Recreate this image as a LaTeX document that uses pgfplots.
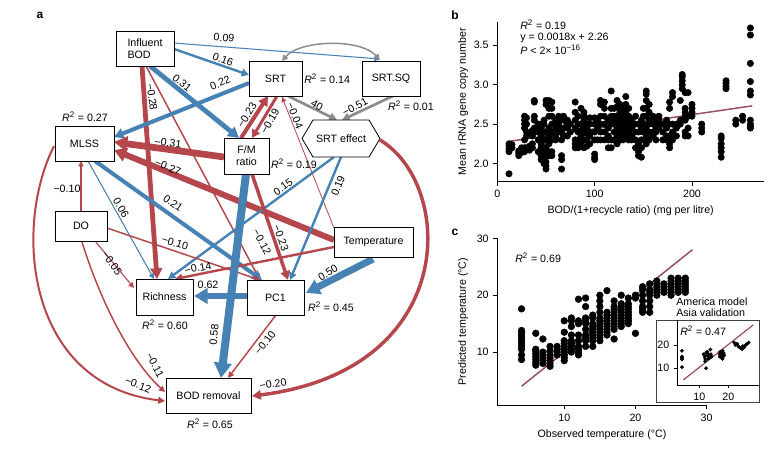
\documentclass[border=0pt]{standalone}
\usepackage{pgfplots}
\usepackage{pgfplotstable}
\pgfplotsset{compat=1.18}
\usepackage{fontspec}
\setmainfont{Liberation Sans}
\usetikzlibrary{arrows.meta}

\definecolor{pblue}{RGB}{70,130,180}
\definecolor{pred}{RGB}{180,70,76}
\definecolor{pgray}{RGB}{140,140,140}
\definecolor{trend}{RGB}{150,78,92}

\newcommand{\Rsq}[1]{\textit{R}\textsuperscript{2} = #1}

% panel b: BOD/(1+recycle ratio) vs mean rRNA copy number
\pgfplotstableread[row sep=\\]{x y\\
12 2.15\\12 2.18\\12 2.22\\12 2.25\\12 1.87\\15 2.2\\15 2.24\\
22 2.1\\22 2.13\\22 2.16\\25 2.14\\25 2.18\\25 2.2\\
28 2.15\\28 2.2\\28 2.3\\28 2.45\\28 2.5\\28 2.55\\28 2.6\\
30 2.2\\30 2.35\\30 2.4\\30 2.5\\30 2.58\\
33 2.17\\33 2.22\\33 2.38\\36 2.2\\36 2.25\\36 2.35\\36 2.42\\
38 2.78\\38 2.8\\38 2.6\\38 2.55\\38 2.45\\38 2.4\\
42 2.3\\42 2.4\\42 2.45\\42 2.5\\42 2.15\\
45 2.05\\45 2.1\\45 2.2\\45 2.25\\45 2.3\\45 2.35\\45 2.4\\45 2.45\\45 2.5\\
48 2.1\\48 2.15\\48 2.2\\48 2.3\\48 2.4\\48 2.5\\48 2.55\\48 2.0\\
50 1.93\\50 1.97\\50 2.02\\50 2.1\\50 2.2\\50 2.3\\50 2.4\\50 2.8\\50 2.75\\
53 2.1\\53 2.15\\53 2.25\\53 2.35\\53 2.45\\53 2.6\\53 2.7\\53 2.8\\
56 2.1\\56 2.15\\56 2.3\\56 2.4\\56 2.5\\56 2.6\\56 2.7\\56 2.78\\
60 2.3\\60 2.35\\60 2.45\\60 2.5\\60 2.55\\
63 2.4\\63 2.5\\63 2.55\\63 2.6\\63 2.45\\
66 1.93\\66 2.05\\66 2.1\\66 2.3\\66 2.4\\
68 2.35\\68 2.45\\68 2.55\\68 2.6\\72 2.35\\72 2.45\\72 2.5\\72 2.55\\75 2.4\\75 2.5\\
80 2.2\\80 2.25\\80 2.3\\80 2.45\\80 2.55\\80 2.65\\80 2.78\\
83 2.2\\83 2.3\\83 2.4\\83 2.5\\83 2.6\\
86 2.25\\86 2.35\\86 2.42\\86 2.5\\86 2.7\\
89 2.2\\89 2.3\\89 2.4\\89 2.45\\89 2.55\\89 2.6\\89 2.65\\
92 2.22\\92 2.3\\92 2.38\\92 2.45\\92 2.5\\
95 2.25\\95 2.35\\95 2.4\\95 2.5\\95 2.58\\
100 2.05\\100 2.08\\100 2.12\\100 2.3\\100 2.4\\100 2.5\\100 2.58\\
103 2.3\\103 2.45\\103 2.55\\
106 2.3\\106 2.4\\106 2.5\\106 2.6\\106 2.75\\106 2.8\\
110 2.3\\110 2.4\\110 2.5\\110 2.6\\110 2.7\\110 2.78\\
114 2.2\\114 2.3\\114 2.35\\114 2.45\\114 2.55\\
117 2.2\\117 2.3\\117 2.5\\117 2.6\\117 2.7\\117 2.92\\
120 2.3\\120 2.4\\120 2.5\\120 2.55\\120 2.6\\120 2.7\\
123 2.25\\123 2.35\\123 2.45\\123 2.5\\123 2.6\\123 2.72\\123 2.8\\
126 2.3\\126 2.4\\126 2.45\\126 2.55\\126 2.65\\126 2.75\\
129 2.3\\129 2.35\\129 2.45\\129 2.5\\129 2.6\\129 2.7\\
132 2.35\\132 2.4\\132 2.5\\132 2.55\\132 2.65\\132 2.75\\132 2.85\\
135 2.3\\135 2.4\\135 2.45\\135 2.5\\135 2.6\\135 2.7\\
138 2.3\\138 2.35\\138 2.45\\138 2.5\\138 2.55\\
142 2.2\\142 2.3\\142 2.4\\142 2.5\\142 2.6\\
145 2.1\\145 2.15\\145 2.25\\145 2.4\\145 2.5\\
148 2.08\\148 2.2\\148 2.3\\148 2.45\\148 2.55\\
150 2.3\\150 2.4\\150 2.5\\150 2.6\\150 2.7\\
153 2.25\\153 2.35\\153 2.45\\153 2.6\\153 2.7\\153 2.8\\153 2.88\\153 2.92\\
156 2.3\\156 2.4\\156 2.5\\156 2.55\\156 2.65\\156 2.75\\
160 2.35\\160 2.4\\160 2.5\\160 2.6\\
163 2.3\\163 2.4\\163 2.45\\163 2.55\\
166 2.45\\166 2.5\\166 2.55\\166 2.6\\
170 2.3\\170 2.4\\170 2.5\\
174 2.3\\174 2.35\\174 2.45\\174 2.55\\
177 2.2\\177 2.25\\177 2.35\\177 2.5\\177 2.7\\177 2.78\\
180 2.3\\180 2.4\\180 2.5\\180 2.85\\180 2.9\\
184 2.35\\184 2.45\\184 2.5\\
188 2.5\\188 2.55\\188 2.8\\
190 2.95\\190 3.0\\190 3.05\\190 3.1\\190 3.13\\
193 2.35\\193 2.4\\193 2.55\\193 2.6\\193 2.65\\193 2.7\\193 2.9\\
196 2.35\\196 2.45\\196 2.6\\196 2.9\\
200 2.6\\200 2.65\\200 2.7\\200 2.75\\
210 2.4\\210 2.45\\210 2.5\\
230 2.08\\230 2.15\\230 2.2\\230 2.25\\230 2.32\\230 2.35\\
235 2.95\\235 2.98\\235 3.02\\235 3.05\\
245 2.5\\245 2.55\\252 2.55\\252 2.6\\
260 3.72\\260 3.63\\260 3.27\\260 3.04\\260 2.92\\260 2.87\\260 2.55\\260 2.5\\260 2.47\\260 2.45\\
}\bdata

% panel c: observed vs predicted temperature
\pgfplotstableread[row sep=\\]{x y\\
4 8.7\\4 9.5\\4 10.5\\4 11\\4 11.5\\4 12\\4 12.5\\4 13\\4 13.5\\4 13.8\\4 17.6\\
6 7.7\\6 8.2\\6 8.7\\6 9.2\\6 9.7\\6 10.2\\6 10.5\\6 13.3\\
7 8\\7 8.5\\7 9\\7 9.5\\7 10\\7 12.3\\
8 7.5\\8 8\\8 8.5\\8 9\\8 9.5\\8 10.2\\8 11\\
9 9.5\\9 10\\9 10.5\\9 11\\
10 8.5\\10 9\\10 9.5\\10 10\\10 10.5\\10 11\\10 11.5\\10 12\\10 13.5\\10 15.5\\
11 10\\11 10.5\\11 11\\11 11.5\\11 12\\11 13\\11 14.5\\11 15.5\\11 16\\
12 9.5\\12 10\\12 10.5\\12 11\\12 12\\12 13\\12 15\\12 15.5\\12 19.3\\
13 11\\13 12\\13 12.5\\13 13\\13 14\\13 15\\13 15.5\\13 16\\13 18\\13 19.5\\
14 11\\14 12\\14 12.5\\14 13\\14 13.5\\14 14\\14 14.5\\14 15\\14 16\\14 16.5\\
15 12\\15 12.5\\15 13\\15 13.5\\15 14\\15 14.5\\15 15\\15 15.5\\15 16\\15 17\\15 18\\15 19\\15 20\\
16 13\\16 13.5\\16 14\\16 14.5\\16 15\\16 15.5\\16 16\\16 16.5\\16 17\\16 20.8\\
17 12.3\\17 14\\17 14.5\\17 15\\17 15.5\\17 16\\17 16.5\\17 17\\17 17.5\\17 18\\17 19\\
18 14.5\\18 15\\18 15.5\\18 16\\18 16.5\\18 17\\18 17.5\\18 18\\18 18.5\\18 20\\
19 15\\19 15.5\\19 16\\19 16.5\\19 17\\19 17.5\\19 18\\19 18.5\\19 19.5\\
20 13.3\\20 19.5\\20 20\\
21 17\\21 17.5\\21 18\\21 19\\21 20\\21 21\\21 21.5\\
22 17\\22 18\\22 19\\22 20\\22 20.5\\22 21\\22 22\\
23 20\\23 20.5\\23 21\\23 21.5\\23 22\\23 22.5\\
24 20.5\\24 21\\24 21.5\\24 22\\
25 20\\25 20.5\\25 21\\25 21.5\\25 22\\25 22.5\\25 23\\
26 20.5\\26 21\\26 21.5\\26 22\\26 22.5\\26 23\\
27 20.5\\27 21\\27 21.5\\27 22\\27 22.5\\27 23\\
}\cdata

% inset: America model, Asia validation
\pgfplotstableread[row sep=\\]{x y\\
4 17.5\\4 15\\4 14.5\\4 14\\4 13.8\\4 10.5\\
11.5 16\\11.8 15\\12 14\\12 13\\12.3 10\\12.8 17\\13 16\\13.2 15\\13.5 14.5\\13.8 18\\14 16\\14.2 15\\12.6 15.5\\13 14\\12.4 16.8\\
17 16\\17.2 17\\17.4 15.5\\17.6 14.5\\17.8 16\\18 17.5\\18.2 15\\18.4 16.5\\18.6 15.5\\17.5 16.8\\18 14\\17 15\\
22 21\\22.4 20\\23 20.5\\23.8 19\\24.4 18.5\\25 19.5\\25.5 19\\26 20\\26.5 20.5\\27 21\\23.4 19.5\\24.8 18.2\\
}\idata

\tikzset{
  ar/.style={-{Triangle[length=3pt 1.4, width=2.6pt 1.7]}},
  lab/.style={font=\fontsize{8}{9}\selectfont, inner sep=0pt},
  bx/.style={draw, fill=white, line width=0.6pt},
}
\pgfplotsset{
  panel/.style={
    anchor=south west, scale only axis,
    axis lines*=left, axis line style={-, line width=0.6pt},
    tick align=outside, major tick length=3pt,
    tick style={black, line width=0.6pt},
    ticklabel style={font=\fontsize{8}{9}\selectfont},
    label style={font=\fontsize{8}{9}\selectfont},
    /pgf/number format/assume math mode=true,
  },
}

\begin{document}
\begin{tikzpicture}
\useasboundingbox (0,0) rectangle (586.5pt,339.75pt);

% background axis in pixel units, holds the path diagram
\begin{axis}[at={(0,0)}, anchor=south west, scale only axis,
  width=586.5pt, height=339.75pt, xmin=0, xmax=782, ymin=0, ymax=453,
  y dir=reverse, hide axis, clip=false]

% arrows
\draw[ar, pblue, line width=0.8pt] (174,43) -- (380,59);
\draw[ar, pblue, line width=1.8pt] (174,49) -- (249,75);
\draw[ar, pblue, line width=3.6pt] (150,66) -- (239,138);
\draw[ar, pred, line width=3.6pt] (142,66) -- (157,279);
\draw[ar, pred, line width=1.1pt] (146,66) -- (260,280);
\draw[ar, pblue, line width=3pt] (249,83) -- (114,137);
\draw[ar, pred, line width=3pt] (241,138) -- (268,96);
\draw[ar, pred, line width=2.2pt] (277,96) -- (252,138);
\draw[ar, pgray, line width=2pt] (288,96) -- (337,120);
\draw[ar, pgray, line width=2pt] (393,96) -- (342,120);
\draw[{Triangle[length=3pt 1.4, width=2.6pt 1.7]}-{Triangle[length=3pt 1.4, width=2.6pt 1.7]}, pgray, line width=1.1pt]
  (282,61) .. controls (300,40) and (360,38) .. (380,60);
\draw[ar, pred, line width=5pt] (224,157) -- (114,142);
\draw[ar, pred, line width=4.5pt] (334,240) -- (114,150);
\draw[ar, pred, line width=0.6pt] (334,228) -- (282,97);
\draw[ar, pred, line width=0.8pt] (81,211) -- (81,161);
\draw[ar, pblue, line width=0.8pt] (88,161) -- (154,279);
\draw[ar, pblue, line width=3pt] (95,161) -- (262,280);
\draw[ar, pblue, line width=1.8pt] (334,157) -- (168,279);
\draw[ar, pblue, line width=1.8pt] (341,157) -- (290,280);
\draw[ar, pred, line width=2.6pt] (380,140) .. controls (455,185) and (460,370) .. (252,396);
\draw[ar, pred, line width=1.8pt] (334,247) -- (175,279);
\draw[ar, pred, line width=1.1pt] (107,228) -- (260,280);
\draw[ar, pred, line width=0.8pt] (95,241) -- (134,288);
\draw[ar, pred, line width=1.1pt] (82,242) .. controls (100,300) and (130,360) .. (165,392);
\draw[ar, pred, line width=1.5pt] (54,146) .. controls (12,230) and (28,385) .. (165,401);
\draw[ar, pred, line width=1.1pt] (276,315) -- (228,378);
\draw[ar, pred, line width=2.6pt] (252,174) -- (288,280);
\draw[ar, pblue, line width=6pt] (246,174) -- (221,378);
\draw[ar, pblue, line width=5.2pt] (373,259) -- (306,293);
\draw[ar, pblue, line width=5.2pt] (247,296) -- (194,296);

% boxes
\draw[bx] (116,31) rectangle (174,66);
\draw[bx] (249,61) rectangle (302,96);
\draw[bx] (362,61) rectangle (420,96);
\draw[bx] (302,138.5) -- (313,120) -- (369,120) -- (380,138.5) -- (369,157) -- (313,157) -- cycle;
\draw[bx] (55,126) rectangle (114,161);
\draw[bx] (224,138) rectangle (269,174);
\draw[bx] (55,211) rectangle (107,241);
\draw[bx] (334,227) rectangle (413,257);
\draw[bx] (136,279) rectangle (193,315);
\draw[bx] (247,280) rectangle (304,315);
\draw[bx] (166,378) rectangle (251,413);

\node[lab, align=left] at (145,48.5) {Influent\\BOD};
\node[lab] at (275.5,78.5) {SRT};
\node[lab] at (391,78.5) {SRT.SQ};
\node[lab] at (341,138.5) {SRT effect};
\node[lab] at (84.5,143.5) {MLSS};
\node[lab, align=center] at (246.5,156) {F/M\\ratio};
\node[lab] at (81,226) {DO};
\node[lab] at (373.5,242) {Temperature};
\node[lab] at (164.5,297) {Richness};
\node[lab] at (275.5,297.5) {PC1};
\node[lab] at (208.5,395.5) {BOD removal};

% R squared
\node[lab, anchor=west] at (304,79) {\Rsq{0.14}};
\node[lab] at (411,106) {\Rsq{0.01}};
\node[lab] at (85,117) {\Rsq{0.27}};
\node[lab] at (294,164) {\Rsq{0.19}};
\node[lab] at (331,307) {\Rsq{0.45}};
\node[lab] at (165,325) {\Rsq{0.60}};
\node[lab] at (210,424) {\Rsq{0.65}};

% path coefficients
\node[lab, rotate=-4] at (224,38) {0.09};
\node[lab, rotate=-20] at (223,60) {0.16};
\node[lab, rotate=-40] at (182,83) {0.31};
\node[lab, rotate=-82] at (152,97) {−0.28};
\node[lab, rotate=22] at (220,83) {0.22};
\node[lab, rotate=58] at (247,115) {−0.23};
\node[lab, rotate=60] at (270,121) {−0.19};
\node[lab, rotate=-30] at (317,105) {40};
\node[lab, rotate=28] at (355,107) {−0.51};
\node[lab, rotate=-68] at (295,116) {−0.04};
\node[lab, rotate=-7] at (168,143) {−0.31};
\node[lab, rotate=-22] at (168,167) {−0.27};
\node[lab] at (67,189) {−0.10};
\node[lab, rotate=-60] at (121,208) {0.06};
\node[lab, rotate=-35] at (173,203) {0.21};
\node[lab, rotate=36] at (283,187) {0.15};
\node[lab, rotate=68] at (338,186) {0.19};
\node[lab, rotate=-62] at (262,242) {−0.12};
\node[lab, rotate=-70] at (281,238) {−0.23};
\node[lab, rotate=-18] at (175,243) {−0.10};
\node[lab, rotate=-55] at (112,263) {−0.05};
\node[lab, rotate=11] at (198,268) {−0.14};
\node[lab, rotate=32] at (328,273) {0.50};
\node[lab] at (208,285) {0.62};
\node[lab, rotate=84] at (214,335) {0.58};
\node[lab, rotate=52] at (265,343) {−0.10};
\node[lab, rotate=-62] at (155,365) {−0.11};
\node[lab, rotate=-20] at (138,385) {−0.12};
\node[lab, rotate=8] at (273,384) {−0.20};

% panel letters
\node[font=\fontsize{9}{10}\selectfont\bfseries, inner sep=0pt] at (40,15) {a};
\node[font=\fontsize{9}{10}\selectfont\bfseries, inner sep=0pt] at (455,15) {b};
\node[font=\fontsize{9}{10}\selectfont\bfseries, inner sep=0pt] at (455,232) {c};

% annotations of b and c
\node[lab, anchor=west] at (520,25) {\Rsq{0.19}};
\node[lab, anchor=west] at (520,38) {y = 0.0018x + 2.26};
\node[lab, anchor=west] at (520,50) {\textit{P} < 2× 10\textsuperscript{−16}};
\node[lab, anchor=west] at (515,258) {\Rsq{0.69}};
\node[lab, anchor=west] at (676,302) {America model};
\node[lab, anchor=west] at (676,313) {Asia validation};
\node[lab, anchor=west] at (680,331) {\Rsq{0.47}};
\draw[line width=0.6pt, black!75] (656,320) rectangle (759,402.3);
\end{axis}

% panel b
\begin{axis}[panel, at={(373pt,203.5pt)}, width=200pt, height=120pt,
  xmin=0, xmax=274, ymin=1.77, ymax=3.8,
  xtick={0,100,200}, ytick={2,2.5,3,3.5}, yticklabels={2.0,2.5,3.0,3.5},
  xlabel={BOD/(1+recycle ratio) (mg per litre)},
  ylabel={Mean rRNA gene copy number},
  xlabel style={at={(axis description cs:0.5,0)}, anchor=center, yshift=-22pt},
  ylabel style={at={(axis description cs:0,0.5)}, anchor=center, yshift=25.7pt}]
\addplot[only marks, mark=*, mark size=2.4pt, black] table {\bdata};
\addplot[no marks, line width=1.1pt, trend] coordinates {(13,2.283) (262,2.732)};
\end{axis}

% panel c
\begin{axis}[panel, at={(373pt,36pt)}, width=157pt, height=125pt,
  xmin=0.6, xmax=30, ymin=0.7, ymax=30,
  xtick={10,20,30}, ytick={10,20,30},
  xlabel={Observed temperature (°C)},
  ylabel={Predicted temperature (°C)},
  xlabel style={at={(axis description cs:0.5,0)}, anchor=center, yshift=-22.5pt},
  ylabel style={at={(axis description cs:0,0.5)}, anchor=center, yshift=25.7pt}]
\addplot[only marks, mark=*, mark size=2.5pt, black] table {\cdata};
\addplot[no marks, line width=1.1pt, trend] coordinates {(4,4) (28,28)};
\end{axis}

% inset
\begin{axis}[panel, at={(508pt,51pt)}, width=61.3pt, height=48.75pt,
  xmin=2.4, xmax=30.6, ymin=2.8, ymax=30.7,
  xtick={10,20}, ytick={10,20}, major tick length=2.5pt]
\addplot[only marks, mark=*, mark size=1.2pt, black] table {\idata};
\addplot[no marks, line width=0.9pt, trend] coordinates {(4.5,5) (28.6,28.6)};
\end{axis}
\end{tikzpicture}
\end{document}
